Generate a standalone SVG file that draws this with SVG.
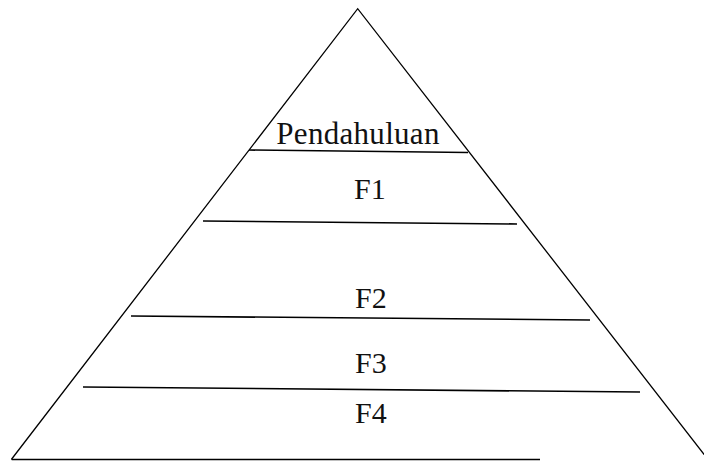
<svg xmlns="http://www.w3.org/2000/svg" width="704" height="462" viewBox="0 0 704 462">
<style>
.edge{stroke:#000;stroke-width:1.3;fill:none;stroke-linecap:round}
.div{stroke:#000;stroke-width:1.6;fill:none}
.lbl{font-family:"Liberation Serif","Times New Roman",serif;font-size:30px;fill:#111}
</style>
<rect width="704" height="462" fill="#fff"/>
<g id="connectors">
<path class="edge" d="M11.7,459 L357.7,8.7 L704,454.3"/>
<path class="div" d="M11.7,459.5 L540,459.5"/>
<path class="div" d="M249,150 L468,152.5"/>
<path class="div" d="M203,221 L517,224"/>
<path class="div" d="M131,316 L590,320"/>
<path class="div" d="M83,387 L640,392"/>
</g>
<g id="pendahuluan"><text class="lbl" x="358" y="143.5" text-anchor="middle" style="font-size:31px;letter-spacing:0.3px">Pendahuluan</text></g>
<g id="f1"><text class="lbl" x="354" y="199">F1</text></g>
<g id="f2"><text class="lbl" x="355" y="308">F2</text></g>
<g id="f3"><text class="lbl" x="355" y="372.5">F3</text></g>
<g id="f4"><text class="lbl" x="355" y="423">F4</text></g>
</svg>
